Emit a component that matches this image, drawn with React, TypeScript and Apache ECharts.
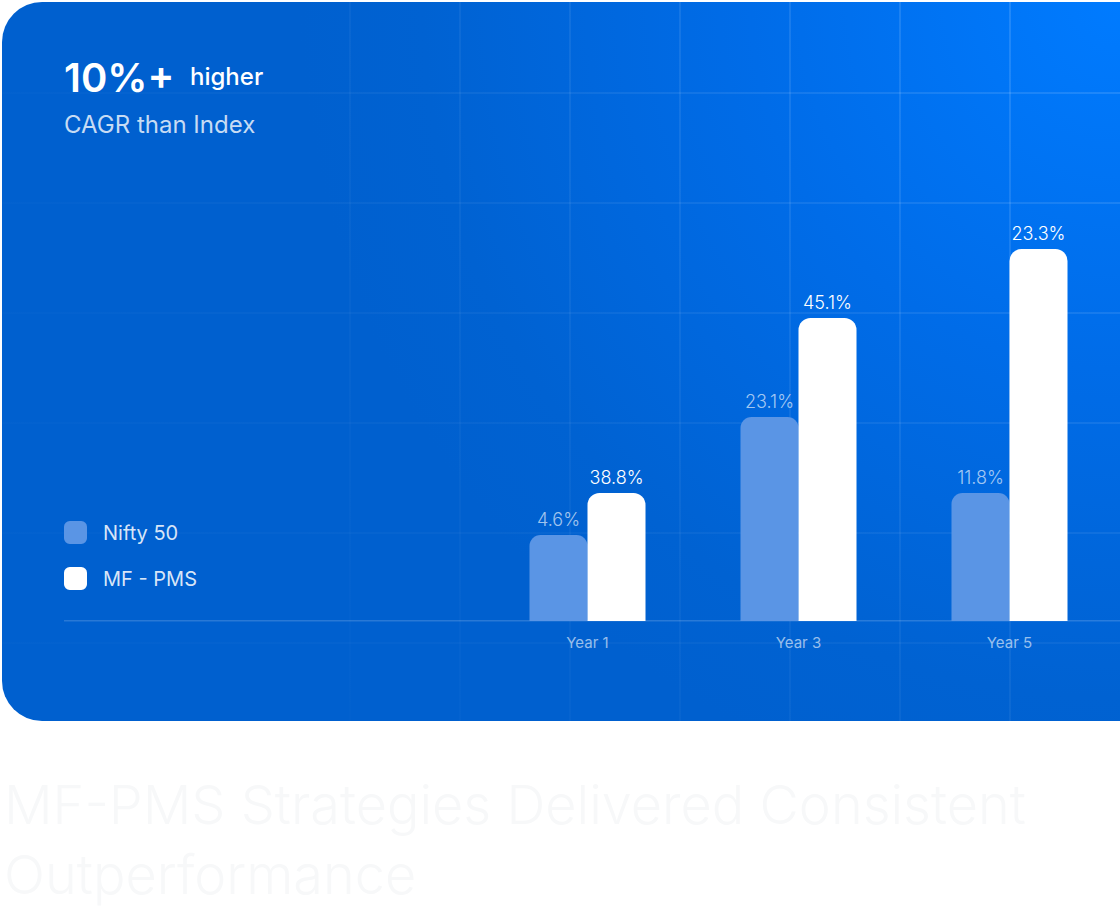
import React, { useEffect, useRef } from "react";
import * as echarts from "echarts";

const categories = ["Year 1", "Year 3", "Year 5"];
const seriesNames = ["Nifty 50", "MF - PMS"];
// bar heights as drawn (relative scale 0-400)
const niftyBarHeights = [86, 204, 128];
const pmsBarHeights = [128, 303, 372];
// value labels shown above bars
const niftyLabels = ["4.6%", "23.1%", "11.8%"];
const pmsLabels = ["38.8%", "45.1%", "23.3%"];
const headlineBig = "10%+";
const headlineSmall = "higher";
const subline = "CAGR than Index";
const footerLines = ["MF-PMS Strategies Delivered Consistent", "Outperformance"];

const FONT = "Inter, 'Noto Sans', sans-serif";

export default function App() {
  const ref = useRef<HTMLDivElement>(null);
  useEffect(() => {
    if (!ref.current) return;
    const chart = echarts.init(ref.current, null, { renderer: "svg" });

    const gridEls: any[] = [];
    const vx = [350, 460, 570, 680, 790, 900, 1010];
    const hy = [93, 203, 313, 423, 533, 643];
    vx.forEach((x) => {
      const a = 0.02 + ((x - 350) / 660) * 0.09;
      gridEls.push({
        type: "rect",
        z: -9,
        silent: true,
        shape: { x: x - 1, y: 2, width: 2, height: 719 },
        style: {
          fill: {
            type: "linear",
            x: 0, y: 0, x2: 0, y2: 1,
            colorStops: [
              { offset: 0, color: `rgba(255,255,255,${a + 0.02})` },
              { offset: 1, color: `rgba(255,255,255,${a * 0.45})` },
            ],
          },
        },
      });
    });
    hy.forEach((y) => {
      const a = 0.12 - ((y - 93) / 550) * 0.07;
      gridEls.push({
        type: "rect",
        z: -9,
        silent: true,
        shape: { x: 2, y: y - 1, width: 1118, height: 2 },
        style: {
          fill: {
            type: "linear",
            x: 0, y: 0, x2: 1, y2: 0,
            colorStops: [
              { offset: 0, color: `rgba(255,255,255,0.01)` },
              { offset: 0.5, color: `rgba(255,255,255,${a * 0.5})` },
              { offset: 1, color: `rgba(255,255,255,${a})` },
            ],
          },
        },
      });
    });

    const option: any = {
      animation: false,
      backgroundColor: "#ffffff",
      textStyle: { fontFamily: FONT },
      grid: { left: 482, right: 5, top: 221, bottom: 286, containLabel: false },
      legend: {
        data: seriesNames,
        orient: "vertical",
        left: 64,
        top: 521,
        padding: 0,
        itemWidth: 23,
        itemHeight: 23,
        itemGap: 23,
        icon: "roundRect",
        textStyle: {
          color: "rgba(255,255,255,0.85)",
          fontSize: 20,
          fontFamily: FONT,
          padding: [0, 0, 0, 11],
        },
        selectedMode: false,
      },
      xAxis: {
        type: "category",
        data: categories,
        axisLine: { show: false },
        axisTick: { show: false },
        axisLabel: {
          color: "rgba(255,255,255,0.6)",
          fontSize: 15,
          fontFamily: FONT,
          margin: 14,
        },
        splitLine: { show: false },
      },
      yAxis: { type: "value", min: 0, max: 400, show: false, splitLine: { show: false } },
      series: [
        {
          name: seriesNames[0],
          type: "bar",
          data: niftyBarHeights,
          barWidth: 58,
          barGap: "0%",
          itemStyle: { color: "#5a95e5", borderRadius: [11, 11, 0, 0] },
          label: {
            show: true,
            position: "top",
            distance: 7,
            color: "rgba(255,255,255,0.65)",
            fontSize: 18,
            fontWeight: 300,
            fontFamily: FONT,
            formatter: (p: any) => niftyLabels[p.dataIndex],
          },
        },
        {
          name: seriesNames[1],
          type: "bar",
          data: pmsBarHeights,
          barWidth: 58,
          barGap: "0%",
          itemStyle: { color: "#ffffff", borderRadius: [12, 12, 0, 0] },
          label: {
            show: true,
            position: "top",
            distance: 7,
            color: "#ffffff",
            fontSize: 18,
            fontWeight: 300,
            fontFamily: FONT,
            formatter: (p: any) => pmsLabels[p.dataIndex],
          },
        },
      ],
      graphic: [
        {
          type: "rect",
          z: -10,
          silent: true,
          shape: { x: 2, y: 2, width: 1140, height: 719, r: [40, 0, 0, 40] },
          style: {
            fill: {
              type: "radial",
              global: true,
              x: 1120,
              y: 0,
              r: 820,
              colorStops: [
                { offset: 0, color: "#007bff" },
                { offset: 0.45, color: "#006ce8" },
                { offset: 0.85, color: "#0062d2" },
                { offset: 1, color: "#0060cf" },
              ],
            },
          },
        },
        ...gridEls,
        {
          type: "rect",
          z: -8,
          silent: true,
          shape: { x: 64, y: 620, width: 1056, height: 1.5 },
          style: { fill: "rgba(255,255,255,0.16)" },
        },
        {
          type: "text",
          z: 10,
          left: 64,
          top: 57,
          style: {
            text: headlineBig,
            fill: "#ffffff",
            font: `600 40px ${FONT}`,
          },
        },
        {
          type: "text",
          z: 10,
          left: 190,
          top: 64,
          style: {
            text: headlineSmall,
            fill: "#ffffff",
            font: `500 24px ${FONT}`,
          },
        },
        {
          type: "text",
          z: 10,
          left: 64,
          top: 112,
          style: {
            text: subline,
            fill: "rgba(255,255,255,0.78)",
            font: `400 24px ${FONT}`,
          },
        },
        {
          type: "text",
          z: 10,
          left: 4,
          top: 777,
          style: {
            text: footerLines[0],
            fill: "#f7f8f9",
            font: `300 54px ${FONT}`,
          },
        },
        {
          type: "text",
          z: 10,
          left: 4,
          top: 847,
          style: {
            text: footerLines[1],
            fill: "#f7f8f9",
            font: `300 54px ${FONT}`,
          },
        },
      ],
    };
    chart.setOption(option);
    return () => chart.dispose();
  }, []);
  return (
    <div
      ref={ref}
      style={{ position: "absolute", left: 0, top: 0, width: 1120, height: 907 }}
    />
  );
}
